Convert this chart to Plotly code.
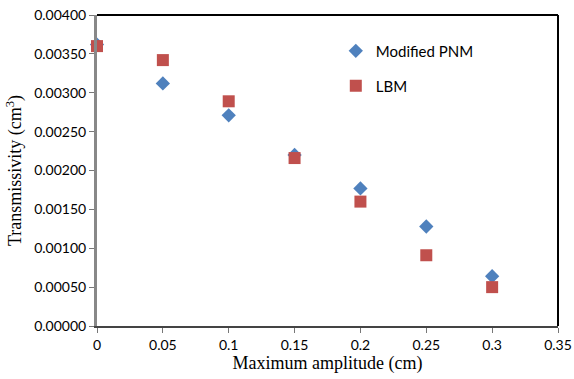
import plotly.graph_objects as go

amplitude = [0, 0.05, 0.1, 0.15, 0.2, 0.25, 0.3]
pnm = [0.00362, 0.00312, 0.00271, 0.00220, 0.00177, 0.00128, 0.00064]
lbm = [0.00360, 0.00342, 0.00289, 0.00216, 0.00160, 0.00091, 0.00050]

x_ticks = [0, 0.05, 0.1, 0.15, 0.2, 0.25, 0.3, 0.35]
x_tick_labels = ["0", "0.05", "0.1", "0.15", "0.2", "0.25", "0.3", "0.35"]
y_ticks = [0, 0.0005, 0.001, 0.0015, 0.002, 0.0025, 0.003, 0.0035, 0.004]

fig = go.Figure()
fig.add_trace(go.Scatter(
    x=amplitude, y=pnm, mode="markers", name="Modified PNM",
    marker=dict(symbol="diamond", size=11, color="#4F81BD"),
    legend="legend", showlegend=True, cliponaxis=False))
fig.add_trace(go.Scatter(
    x=amplitude, y=lbm, mode="markers", name="LBM",
    marker=dict(symbol="square", size=12, color="#C0504D"),
    legend="legend2", showlegend=True, cliponaxis=False))

legend_font = dict(family="Lato, Noto Sans, sans-serif", size=15, color="#000")
tick_font = dict(family="Lato, Noto Sans, sans-serif", size=14, color="#000")
title_font = dict(family="Liberation Serif, serif", size=18, color="#000")

fig.update_layout(
    width=574, height=379,
    margin=dict(l=97, r=16, t=15, b=53),
    paper_bgcolor="white", plot_bgcolor="white",
    showlegend=True,
    legend=dict(x=0.518, y=0.884, xanchor="left", yanchor="middle",
                font=legend_font, bgcolor="rgba(0,0,0,0)"),
    legend2=dict(x=0.518, y=0.772, xanchor="left", yanchor="middle",
                 font=legend_font, bgcolor="rgba(0,0,0,0)"),
    xaxis=dict(range=[0, 0.35], tickvals=x_ticks, ticktext=x_tick_labels,
               automargin=False,
               showgrid=False, zeroline=False, showline=True,
               linecolor="#444", linewidth=2, ticks="outside", ticklen=5,
               tickcolor="#777", tickwidth=1, tickfont=tick_font,
               title=dict(text="Maximum amplitude (cm)", standoff=2, font=title_font)),
    yaxis=dict(range=[0, 0.004], tickvals=y_ticks, tickformat=".5f",
               automargin=False,
               showgrid=False, zeroline=False, showline=True,
               linecolor="#888", linewidth=3, ticks="outside", ticklen=5,
               tickcolor="#777", tickwidth=1, tickfont=tick_font,
               title=dict(text="Transmissivity (cm<sup>3</sup>)", standoff=8, font=title_font)),
    shapes=[
        dict(type="line", xref="paper", yref="paper", x0=0, x1=1, y0=1, y1=1,
             line=dict(color="black", width=2)),
        dict(type="line", xref="paper", yref="paper", x0=1, x1=1, y0=0, y1=1,
             line=dict(color="black", width=2)),
    ],
)

fig.write_html("out.html")
